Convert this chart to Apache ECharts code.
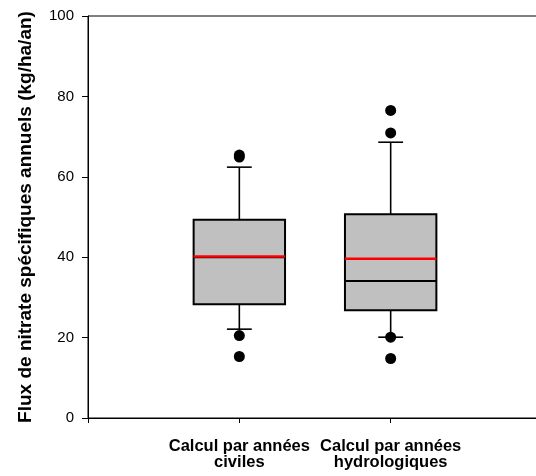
<!DOCTYPE html>
<html>
<head>
<meta charset="utf-8">
<style>
  html, body { margin: 0; padding: 0; background: #fff; }
  #chart { width: 536px; height: 476px; }
</style>
<script src="https://cdn.jsdelivr.net/npm/echarts@6/dist/echarts.min.js"></script>
</head>
<body>
<div id="chart"></div>
<script>
// Annual specific nitrate fluxes, two ways of grouping the years
var categories = ['Calcul par années\nciviles', 'Calcul par années\nhydrologiques'];
var whiskerLow = [22.1, 20.1];
var q1 = [28.3, 26.8];
var median = [40.0, 34.1];
var q3 = [49.3, 50.7];
var whiskerHigh = [62.4, 68.6];
var means = [40.2, 39.6];
var outliers = [
  [65.4, 64.9, 20.5, 15.3],
  [76.5, 70.9, 20.1, 14.8]
];
var yTicks = [0, 20, 40, 60, 80, 100];

var boxData = categories.map(function (c, i) {
  return [i + 1, whiskerLow[i], q1[i], median[i], q3[i], whiskerHigh[i], means[i]];
});
var outlierData = [];
outliers.forEach(function (list, i) {
  list.forEach(function (v) { outlierData.push([i + 1, v]); });
});

var BOX_HALF = 0.302;
var CAP_HALF = 0.082;

function renderBox(params, api) {
  var x = api.value(0);
  var lo = api.value(1), a = api.value(2), med = api.value(3),
      b = api.value(4), hi = api.value(5), mean = api.value(6);
  function pt(dx, v) { return api.coord([x + dx, v]); }
  function line(p1, p2, color, w) {
    return {
      type: 'line',
      shape: { x1: p1[0], y1: p1[1], x2: p2[0], y2: p2[1] },
      style: { stroke: color, lineWidth: w }
    };
  }
  var tl = pt(-BOX_HALF, b), br = pt(BOX_HALF, a);
  return {
    type: 'group',
    children: [
      line(pt(0, lo), pt(0, a), '#000', 1.6),
      line(pt(0, b), pt(0, hi), '#000', 1.6),
      line(pt(-CAP_HALF, lo), pt(CAP_HALF, lo), '#000', 1.6),
      line(pt(-CAP_HALF, hi), pt(CAP_HALF, hi), '#000', 1.6),
      {
        type: 'rect',
        shape: { x: tl[0], y: tl[1], width: br[0] - tl[0], height: br[1] - tl[1] },
        style: { fill: '#c0c0c0', stroke: '#000', lineWidth: 2 }
      },
      line(pt(-BOX_HALF, med), pt(BOX_HALF, med), '#000', 2),
      line(pt(-BOX_HALF, mean), pt(BOX_HALF, mean), '#ff0000', 2.5)
    ]
  };
}

var chart = echarts.init(document.getElementById('chart'), null, { renderer: 'canvas' });
chart.setOption({
  animation: false,
  backgroundColor: '#fff',
  grid: {
    left: 88, top: 16, bottom: 58, right: -6,
    outerBoundsMode: 'none',
    containLabel: false,
    show: true, borderColor: '#000', borderWidth: 1, backgroundColor: 'transparent'
  },
  xAxis: {
    type: 'value', min: 0, max: 3, interval: 1,
    splitLine: { show: false },
    axisLine: { show: true, lineStyle: { color: '#000', width: 1 } },
    axisTick: { show: true, inside: false, length: 5, lineStyle: { color: '#000' } },
    axisLabel: {
      margin: 20,
      color: '#000',
      fontFamily: 'Liberation Sans, Arial, sans-serif',
      fontWeight: 'bold',
      fontSize: 16.5,
      lineHeight: 16,
      formatter: function (v) { return categories[v - 1] || ''; }
    }
  },
  yAxis: {
    type: 'value', min: 0, max: 100, interval: 20,
    splitLine: { show: false },
    axisLine: { show: true, lineStyle: { color: '#000', width: 1 } },
    axisTick: { show: true, inside: false, length: 6, lineStyle: { color: '#000' } },
    axisLabel: {
      margin: 14,
      color: '#000',
      fontFamily: 'Liberation Sans, Arial, sans-serif',
      fontSize: 15,
      formatter: function (v) { return yTicks.indexOf(v) >= 0 ? String(v) : ''; }
    },
    name: 'Flux de nitrate spécifiques annuels (kg/ha/an)',
    nameLocation: 'middle',
    nameGap: 53,
    nameTextStyle: {
      color: '#000',
      fontFamily: 'Liberation Sans, Arial, sans-serif',
      fontWeight: 'bold',
      fontSize: 19
    }
  },
  series: [
    {
      type: 'custom',
      renderItem: renderBox,
      encode: { x: 0, y: [1, 2, 3, 4, 5] },
      data: boxData,
      z: 2
    },
    {
      type: 'scatter',
      symbol: 'circle',
      symbolSize: 11,
      itemStyle: { color: '#000', opacity: 1 },
      data: outlierData,
      z: 3
    }
  ]
});
</script>
</body>
</html>
